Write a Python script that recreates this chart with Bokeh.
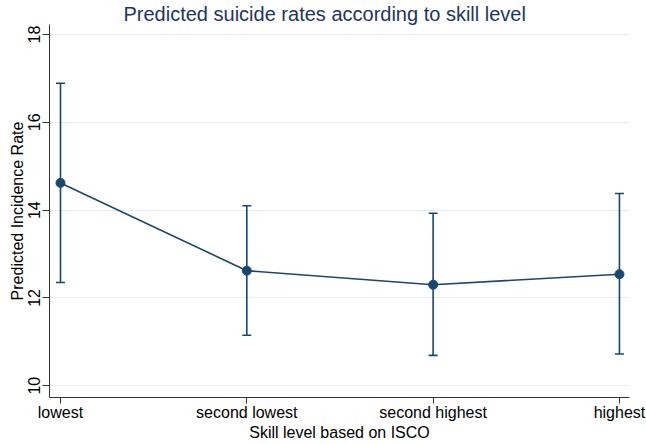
from bokeh.plotting import figure
from bokeh.models import Range1d, FixedTicker, ColumnDataSource, Whisker, TeeHead
from bokeh.embed import file_html
from bokeh.resources import INLINE

categories = ["lowest", "second lowest", "second highest", "highest"]
xpos = [1, 2, 3, 4]
predicted = [14.62, 12.62, 12.30, 12.54]
upper_ci = [16.89, 14.10, 13.93, 14.38]
lower_ci = [12.35, 11.15, 10.69, 10.72]
y_ticks = [10, 12, 14, 16, 18]

NAVY = "#1a476f"
FONT = "Liberation Sans"

p = figure(width=646, height=444, output_backend="svg", toolbar_location=None,
           x_range=Range1d(0.941, 4.054), y_range=Range1d(9.73, 18.23),
           min_border_left=49, min_border_right=17, min_border_top=23, min_border_bottom=47,
           title="Predicted suicide rates according to skill level")
p.outline_line_color = None
p.background_fill_color = "white"
p.border_fill_color = "white"

p.title.text_font = FONT
p.title.text_font_size = "20px"
p.title.text_font_style = "normal"
p.title.text_color = "#1e3560"
p.title.align = "left"
p.title.offset = 74
p.title.standoff = 0

src = ColumnDataSource(dict(x=xpos, y=predicted, upper=upper_ci, lower=lower_ci))

p.add_layout(Whisker(source=src, base="x", upper="upper", lower="lower",
                     line_color=NAVY, line_width=1.6,
                     upper_head=TeeHead(size=9, line_color=NAVY, line_width=1.6),
                     lower_head=TeeHead(size=9, line_color=NAVY, line_width=1.6)))
p.line("x", "y", source=src, line_color=NAVY, line_width=1.6)
p.scatter("x", "y", source=src, size=9, fill_color=NAVY, line_color=NAVY)

# axes
p.xaxis.ticker = FixedTicker(ticks=xpos)
p.xaxis.major_label_overrides = {x: c for x, c in zip(xpos, categories)}
p.yaxis.ticker = FixedTicker(ticks=y_ticks)
p.xaxis.minor_tick_line_color = None
p.yaxis.minor_tick_line_color = None
for ax in (p.xaxis, p.yaxis):
    ax.axis_line_color = "#333333"
    ax.major_tick_line_color = "#333333"
    ax.major_tick_out = 7
    ax.major_tick_in = 0
    ax.major_label_text_font = FONT
    ax.major_label_text_font_size = "16px"
    ax.major_label_text_color = "black"
    ax.axis_label_text_font = FONT
    ax.axis_label_text_font_size = "16px"
    ax.axis_label_text_font_style = "normal"
    ax.axis_label_text_color = "black"
p.yaxis.major_label_orientation = "vertical"
p.xaxis.axis_label = "Skill level based on ISCO"
p.yaxis.axis_label = "Predicted Incidence Rate"
p.xaxis.major_tick_out = 6
p.xaxis.major_label_standoff = 0
p.xaxis.axis_label_standoff = 0
p.yaxis.major_label_standoff = 2
p.yaxis.axis_label_standoff = 0

p.xgrid.grid_line_color = None
p.ygrid.grid_line_color = "#e4eef1"
p.ygrid.grid_line_width = 1

open("out.html", "w").write(file_html(p, INLINE))
